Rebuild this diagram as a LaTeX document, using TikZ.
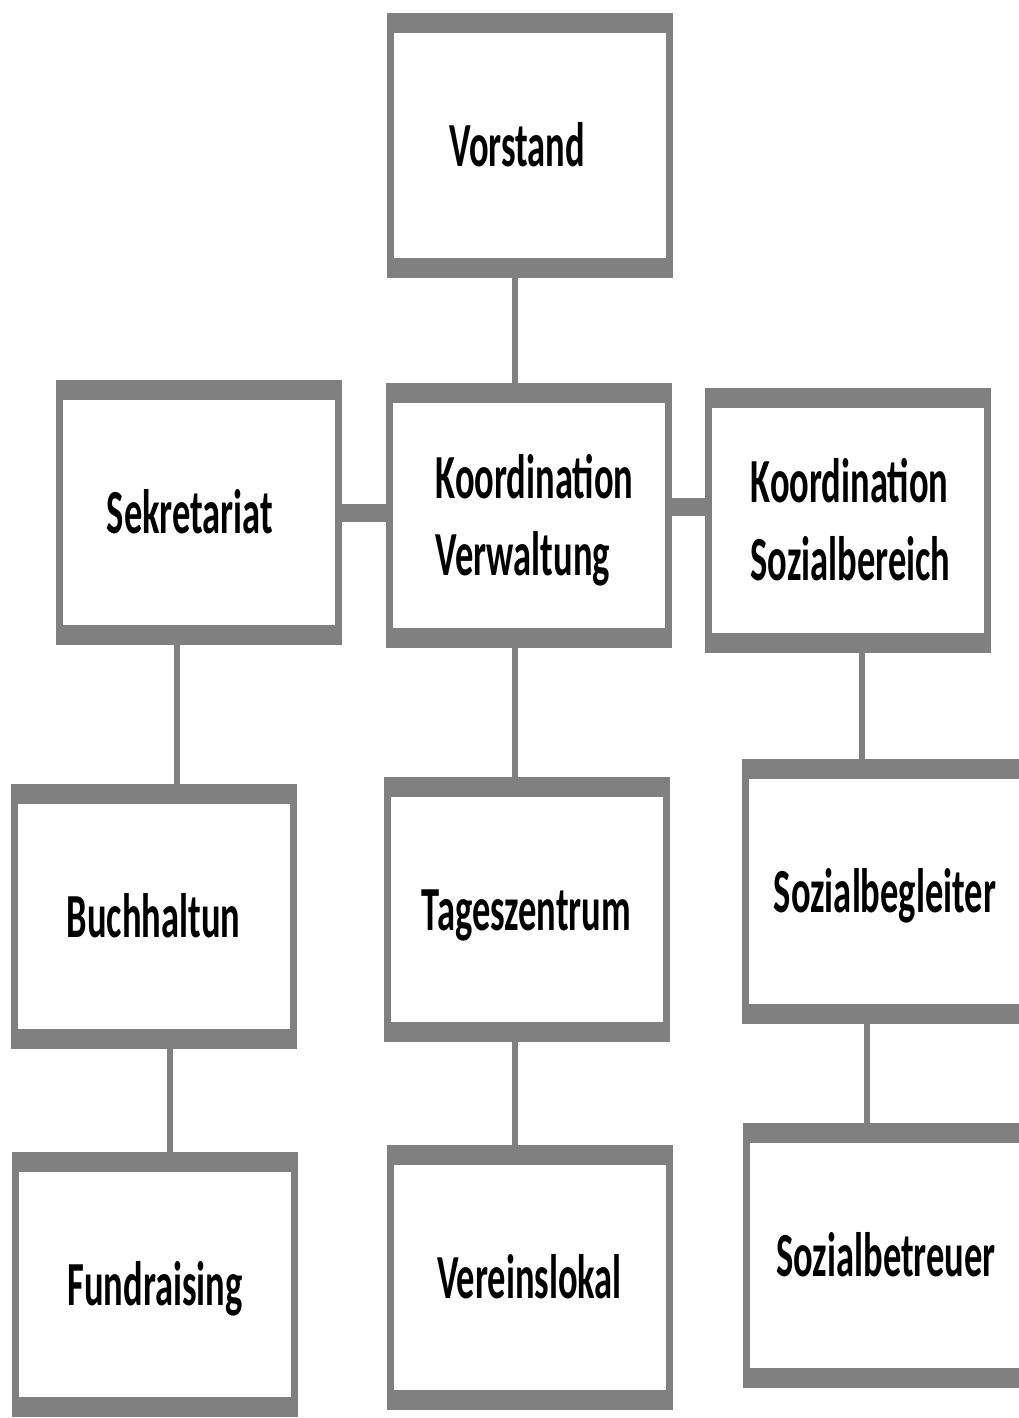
\documentclass[tikz,border=0pt]{standalone}
\usepackage{fontspec}
\setmainfont{Carlito}
\usepackage{graphicx}
\usetikzlibrary{calc}
\definecolor{boxgray}{RGB}{128,128,128}
\newcommand{\tall}[2][0pt]{\hspace*{#1}\raisebox{-6pt}[\height][\depth]{\scalebox{1}[1.72]{\begin{tabular}{@{}l@{}}#2\end{tabular}}}}
\tikzset{
  orgbox/.style={draw=boxgray, line width=7pt, fill=white, minimum width=279pt, minimum height=258pt,
    inner sep=0pt, outer sep=0pt, font=\fontsize{36.5}{45}\selectfont\bfseries},
  link/.style={draw=boxgray, line width=6pt},
  hlink/.style={draw=boxgray, line width=18pt}
}

\begin{document}
\begin{tikzpicture}[x=1pt, y=-1pt]
\useasboundingbox (0,0) rectangle (1018,1418);
%boxes
\node[orgbox] (vor)  at (530,145.5)  {\tall[-26pt]{Vorstand}};
\node[orgbox] (kv)   at (528.5,515.5) {\tall[12pt]{Koordination\\Verwaltung}};
\node[orgbox] (sek)  at (199,512.5)  {\tall[-18pt]{Sekretariat}};
\node[orgbox] (ks)   at (847.5,520)  {\tall[6pt]{Koordination\\Sozialbereich}};
\node[orgbox] (buch) at (153.5,916)  {\tall{Buchhaltun}};
\node[orgbox] (tag)  at (526.5,909)  {\tall{Tageszentrum}};
\node[orgbox] (begl) at (885,891.5)  {\tall{Sozialbegleiter}};
\node[orgbox] (fund) at (155,1284.5) {\tall{Fundraising}};
\node[orgbox] (ver)  at (529.5,1277.5) {\tall{Vereinslokal}};
\node[orgbox] (betr) at (886,1255)   {\tall{Sozialbetreuer}};
%thick top and bottom bars
\foreach \n in {vor,kv,sek,ks,buch,tag,begl,fund,ver,betr} {
  \fill[boxgray] ($(\n.north west)+(-3.5,-3.5)$) rectangle ($(\n.north east)+(3.5,16.5)$);
  \fill[boxgray] ($(\n.south west)+(-3.5,-16.5)$) rectangle ($(\n.south east)+(3.5,3.5)$);
}
%connectors
\draw[link] ([xshift=-15]vor.south) -- ([xshift=-15]vor.south |- kv.north);
\draw[hlink] (sek.east) -- (sek.east -| kv.west);
\draw[hlink] ([yshift=8.5]kv.east) -- ([yshift=8.5]kv.east -| ks.west);
\draw[link] ([xshift=-22]sek.south) -- ([xshift=-22]sek.south |- buch.north);
\draw[link] ([xshift=-13.5]kv.south) -- ([xshift=-13.5]kv.south |- tag.north);
\draw[link] ([xshift=14.5]ks.south) -- ([xshift=14.5]ks.south |- begl.north);
\draw[link] ([xshift=16.5]buch.south) -- ([xshift=16.5]buch.south |- fund.north);
\draw[link] ([xshift=-11.5]tag.south) -- ([xshift=-11.5]tag.south |- ver.north);
\draw[link] ([xshift=-18]begl.south) -- ([xshift=-18]begl.south |- betr.north);
\end{tikzpicture}
\end{document}
